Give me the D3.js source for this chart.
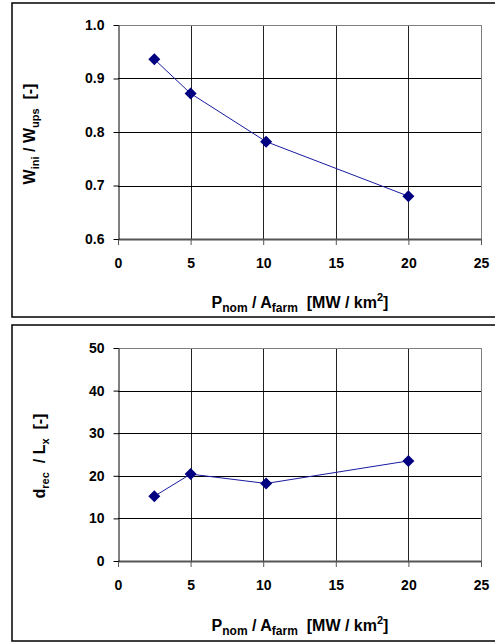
<!DOCTYPE html>
<html><head><meta charset="utf-8">
<script src="https://cdn.jsdelivr.net/npm/d3@7"></script>
<style>body{margin:0;background:#fff}svg{display:block}text{font-family:Arial,"Liberation Sans",sans-serif;font-weight:bold;fill:#000}</style>
</head><body>
<script>
const xValues = [2.5, 5, 10.2, 20];
const widthRatio = [0.936, 0.872, 0.782, 0.680];
const recoveryDist = [15.2, 20.4, 18.2, 23.5];
const xTicks = [0, 5, 10, 15, 20, 25];
const yTicksTop = [0.6, 0.7, 0.8, 0.9, 1.0];
const yTicksBottom = [0, 10, 20, 30, 40, 50];

const svg = d3.select("body").append("svg").attr("width", 495).attr("height", 642);

function panel(cfg) {
  const g = svg.append("g");
  g.append("rect").attr("x", cfg.box[0]).attr("y", cfg.box[1]).attr("width", cfg.box[2]).attr("height", cfg.box[3])
    .attr("fill", "#fff").attr("stroke", "#000").attr("stroke-width", 1.5);
  const x = d3.scaleLinear().domain([0, 25]).range([118, 481]);
  const y = d3.scaleLinear().domain(cfg.ydom).range([cfg.py1, cfg.py0]);
  g.selectAll(".vg").data(xTicks.slice(1, -1)).join("line")
    .attr("x1", d => Math.round(x(d)) + 0.5).attr("x2", d => Math.round(x(d)) + 0.5)
    .attr("y1", cfg.py0).attr("y2", cfg.py1).attr("stroke", "#222").attr("stroke-width", 1);
  g.selectAll(".hg").data(cfg.yticks.slice(1, -1)).join("line")
    .attr("x1", 118).attr("x2", 481)
    .attr("y1", d => Math.round(y(d)) + 0.5).attr("y2", d => Math.round(y(d)) + 0.5)
    .attr("stroke", "#000").attr("stroke-width", 1);
  g.append("line").attr("x1", 118).attr("x2", 481.5).attr("y1", cfg.py0 + 0.5).attr("y2", cfg.py0 + 0.5).attr("stroke", "#808080");
  g.append("line").attr("x1", 481.5).attr("x2", 481.5).attr("y1", cfg.py0).attr("y2", cfg.py1).attr("stroke", "#808080");
  const xa = g.append("g").attr("transform", `translate(0,${cfg.py1})`)
    .call(d3.axisBottom(x).tickValues(xTicks).tickSize(6).tickSizeOuter(0).tickFormat(d3.format("d")).tickPadding(13));
  xa.select(".domain").attr("stroke", "#555").attr("stroke-width", 2);
  xa.selectAll(".tick line").attr("stroke", "#555").attr("y1", 0);
  xa.selectAll("text").attr("font-size", 14).attr("font-weight", "bold").attr("fill", "#000");
  const ya = g.append("g").attr("transform", `translate(118.5,0)`)
    .call(d3.axisLeft(y).tickValues(cfg.yticks).tickSize(5).tickSizeOuter(0).tickFormat(cfg.fmt).tickPadding(9));
  ya.select(".domain").attr("stroke", "#000");
  ya.selectAll(".tick line").attr("stroke", "#000");
  ya.selectAll("text").attr("font-size", 14).attr("font-weight", "bold").attr("fill", "#000");
  const data = xValues.map((v, i) => [v, cfg.values[i]]);
  g.append("path").datum(data).attr("fill", "none").attr("stroke", "#1a1aa0").attr("stroke-width", 1)
    .attr("d", d3.line().x(d => x(d[0])).y(d => y(d[1])));
  g.selectAll(".pt").data(data).join("path")
    .attr("transform", d => `translate(${x(d[0])},${y(d[1])})`)
    .attr("d", "M0,-6L6,0L0,6L-6,0Z").attr("fill", "#000080");
  const xt = g.append("text").attr("x", 300).attr("y", cfg.xtY).attr("text-anchor", "middle").attr("font-size", 16).attr("xml:space", "preserve");
  xt.append("tspan").text("P");
  xt.append("tspan").attr("font-size", 12).attr("dy", 4).text("nom");
  xt.append("tspan").attr("dy", -4).text(" / A");
  xt.append("tspan").attr("font-size", 12).attr("dy", 4).text("farm");
  xt.append("tspan").attr("dy", -4).text("  [MW / km");
  xt.append("tspan").attr("font-size", 11).attr("dy", -7).text("2");
  xt.append("tspan").attr("dy", 7).text("]");
  const yt = g.append("text").attr("transform", `translate(${cfg.ytX},${cfg.ytY}) rotate(-90)`)
    .attr("text-anchor", "middle").attr("font-size", 16).attr("xml:space", "preserve");
  cfg.ytitle.forEach(p => {
    const t = yt.append("tspan").text(p.t);
    if (p.sub) t.attr("font-size", 11).attr("dy", 4); else if (p.back) t.attr("dy", -4);
  });
}

panel({box: [12, 3, 490, 314], ydom: [0.6, 1.0], py0: 25, py1: 239, yticks: yTicksTop, fmt: d3.format(".1f"),
  values: widthRatio, xtY: 308, ytX: 35, ytY: 134,
  ytitle: [{t: "W"}, {t: "ini", sub: true}, {t: " / W", back: true}, {t: "ups", sub: true}, {t: "  [-]", back: true}]});
panel({box: [12, 325, 490, 316], ydom: [0, 50], py0: 348, py1: 561, yticks: yTicksBottom, fmt: d3.format("d"),
  values: recoveryDist, xtY: 631, ytX: 45, ytY: 456,
  ytitle: [{t: "d"}, {t: "rec", sub: true}, {t: "  / L", back: true}, {t: "x", sub: true}, {t: "  [-]", back: true}]});
</script>
</body></html>
